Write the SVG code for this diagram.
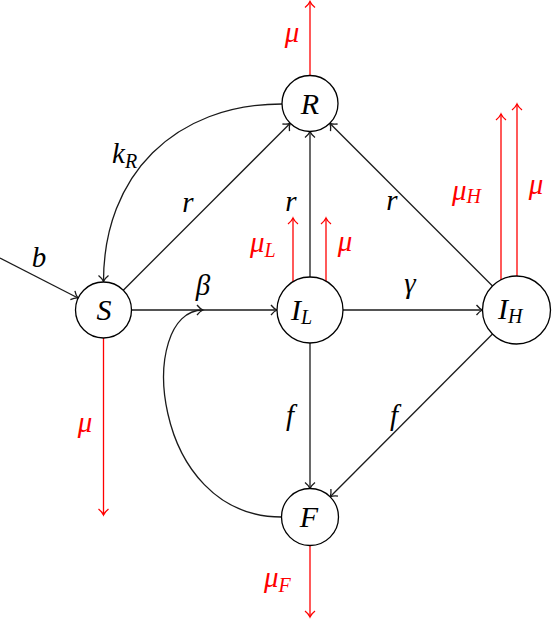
<svg xmlns="http://www.w3.org/2000/svg" width="552" height="620" viewBox="0 0 552 620">
<style>
.node circle{fill:#fff;stroke:#000;stroke-width:1.3}
.edge{fill:none;stroke:#1a1a1a;stroke-width:1.3;marker-end:url(#ah)}
.red{fill:none;stroke:#ff0000;stroke-width:1.3;marker-end:url(#ahr)}
.t{font-style:italic;font-size:29px;fill:#000}
.nl{font-size:30px}
.sub{font-size:20px}
.rt{fill:#ff0000}
</style>
<defs>
<marker id="ah" markerUnits="userSpaceOnUse" viewBox="-8 -7 10 14" markerWidth="10" markerHeight="14" refX="0" refY="0" orient="auto">
<path d="M-6,-5 C-4,-2.5 -1.2,-0.5 0,0 C-1.2,0.5 -4,2.5 -6,5" fill="none" stroke="#1a1a1a" stroke-width="1.3"/>
</marker>
<marker id="ahr" markerUnits="userSpaceOnUse" viewBox="-8 -7 10 14" markerWidth="10" markerHeight="14" refX="0" refY="0" orient="auto">
<path d="M-6,-5 C-4,-2.5 -1.2,-0.5 0,0 C-1.2,0.5 -4,2.5 -6,5" fill="none" stroke="#ff0000" stroke-width="1.3"/>
</marker>
</defs>
<g id="connectors" font-family="'Liberation Serif', 'Times New Roman', 'DejaVu Serif', serif">
<path class="edge" d="M0,258 L78,298"/>
<path class="edge" d="M282,104 C175,104 103.5,175 103.5,281.5"/>
<path class="edge" d="M123.3,290.2 L290.2,123.3"/>
<path class="edge" d="M310,277 L310,131.5"/>
<path class="edge" d="M492.5,286 L329.8,123.3"/>
<path class="edge" d="M131.5,310 L277,310"/>
<path class="edge" d="M281.5,517 C150,517 136,310 203,310"/>
<path class="edge" d="M343,310 L482.5,310"/>
<path class="edge" d="M310,343 L310,488.5"/>
<path class="edge" d="M492.5,334 L330.2,496.8"/>
<path class="red" d="M310,75.5 L310,1.5"/>
<path class="red" d="M103.5,338 L103.5,515"/>
<path class="red" d="M293,282 L293,218"/>
<path class="red" d="M326,281 L326,218"/>
<path class="red" d="M501,280 L501,114"/>
<path class="red" d="M517,276 L517,104"/>
<path class="red" d="M310,545.5 L310,617"/>
<text class="t" x="39" y="267" text-anchor="middle">b</text>
<text class="t" x="112" y="163">k<tspan class="sub" dy="5">R</tspan></text>
<text class="t" x="188" y="212" text-anchor="middle">r</text>
<text class="t" x="291" y="211" text-anchor="middle">r</text>
<text class="t" x="392" y="210" text-anchor="middle">r</text>
<text class="t" x="203" y="295" text-anchor="middle">β</text>
<text class="t" x="410" y="293" text-anchor="middle">γ</text>
<text class="t" x="290" y="425" text-anchor="middle">f</text>
<text class="t" x="394" y="425" text-anchor="middle">f</text>
<text class="t rt" x="292" y="42" text-anchor="middle">μ</text>
<text class="t rt" x="85" y="432" text-anchor="middle">μ</text>
<text class="t rt" x="250" y="252">μ<tspan class="sub rt" dy="5">L</tspan></text>
<text class="t rt" x="345" y="251" text-anchor="middle">μ</text>
<text class="t rt" x="452" y="200">μ<tspan class="sub rt" dy="3">H</tspan></text>
<text class="t rt" x="536" y="194" text-anchor="middle">μ</text>
<text class="t rt" x="264" y="587">μ<tspan class="sub rt" dy="5">F</tspan></text>
</g>
<g font-family="'Liberation Serif', 'Times New Roman', 'DejaVu Serif', serif">
<g id="node-R" class="node"><circle cx="310" cy="103.5" r="28"/><text class="t nl" x="310" y="114" text-anchor="middle">R</text></g>
<g id="node-S" class="node"><circle cx="103.5" cy="310" r="28"/><text class="t nl" x="104" y="320" text-anchor="middle">S</text></g>
<g id="node-IL" class="node"><circle cx="310" cy="310" r="33"/><text class="t nl" x="291" y="320">I<tspan class="sub" dy="4">L</tspan></text></g>
<g id="node-IH" class="node"><circle cx="516.5" cy="310" r="34"/><text class="t nl" x="498" y="319">I<tspan class="sub" dy="4">H</tspan></text></g>
<g id="node-F" class="node"><circle cx="310" cy="517" r="28.5"/><text class="t nl" x="309" y="527" text-anchor="middle">F</text></g>
</g>
</svg>
